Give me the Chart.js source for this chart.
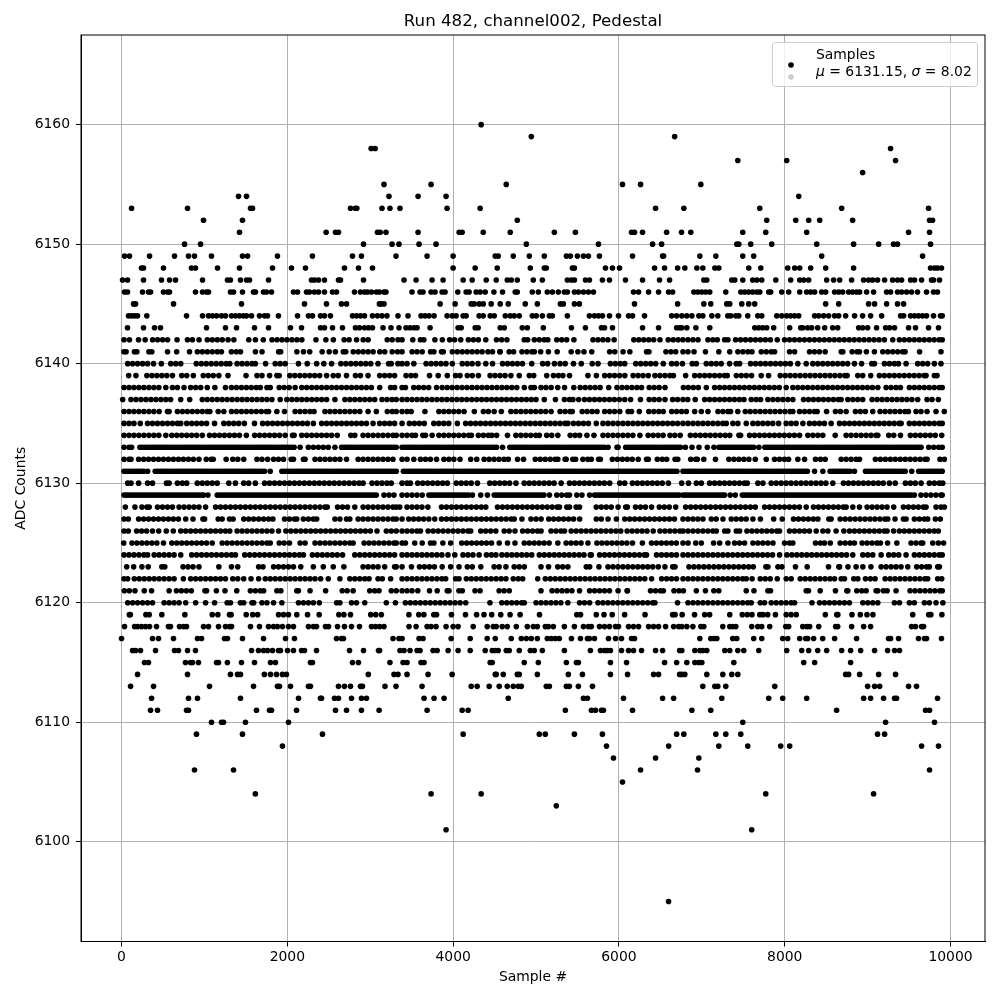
<!DOCTYPE html>
<html>
<head>
<meta charset="utf-8">
<title>Run 482, channel002, Pedestal</title>
<script src="https://cdn.jsdelivr.net/npm/chart.js@4"></script>
<style>
    html, body { margin: 0; padding: 0; background: #fff; }
    canvas { display: block; }
</style>
</head>
<body>
<canvas id="chart" width="1000" height="1000"></canvas>
<script>
// sample numbers, one list per ADC level
const xs6160 = [4338];
const xs6159 = [4943, 6672];
const xs6158 = [3011, 3059, 9277];
const xs6157 = [7434, 8024, 9337];
const xs6156 = [8940];
const xs6155 = [3166, 3734, 4641, 6043, 6261, 6988];
const xs6154 = [1411, 1508, 3226, 3577, 3915, 8169];
const xs6153 = [121, 796, 1556, 1580, 2762, 2820, 2838, 3142, 3238, 3359, 3927, 4326, 6442, 6783, 7699, 8687, 9735];
const xs6152 = [989, 1459, 4774, 7783, 8133, 8289, 8422, 8819, 9747, 9783];
const xs6151 = [1423, 2468, 2581, 2617, 3087, 3120, 3190, 3577, 4073, 4109, 4363, 4689, 5221, 5475, 6152, 6188, 6285, 6575, 6755, 6867, 7494, 7771, 8265, 9494, 9747];
const xs6150 = [760, 953, 2919, 3263, 3347, 3589, 3794, 4883, 5753, 6406, 6515, 7422, 7446, 7590, 7843, 8386, 8831, 9133, 9313, 9361, 9759];
const xs6149 = [36, 96, 338, 639, 808, 880, 1085, 1459, 1520, 1881, 2303, 2786, 2894, 3311, 3686, 4000, 4508, 4544, 4725, 4919, 5100, 5366, 5414, 5499, 5572, 5632, 5765, 6164, 6527, 6539, 6976, 7169, 7494, 7626, 8446, 9663];
const xs6148 = [241, 265, 506, 844, 892, 1158, 1423, 1821, 2050, 2219, 2689, 2858, 3027, 4000, 4266, 4532, 4931, 5100, 5124, 5439, 5463, 5838, 5922, 6007, 6430, 6551, 6708, 6795, 6940, 7012, 7157, 7205, 7566, 7711, 8036, 8120, 8181, 8313, 8494, 8831, 9759, 9807, 9843, 9891];
const xs6147 = [12, 72, 265, 482, 579, 651, 977, 1278, 1314, 1435, 1508, 1544, 1773, 2291, 2327, 2376, 2448, 2617, 2641, 2919, 3408, 3553, 3746, 3879, 4121, 4230, 4399, 4520, 4653, 4701, 4774, 4967, 5076, 5378, 5427, 5463, 5596, 5644, 5801, 5886, 6079, 6285, 6490, 6611, 7024, 7060, 7361, 7398, 7494, 7614, 7663, 7723, 7892, 8072, 8181, 8229, 8289, 8506, 8590, 8663, 8807, 8951, 9012, 9060, 9120, 9205, 9301, 9361, 9410, 9518, 9566, 9651, 9771, 9795, 9867];
const xs6146 = [36, 72, 253, 326, 350, 506, 555, 579, 892, 977, 1025, 1049, 1314, 1351, 1459, 1592, 1616, 1712, 1749, 1809, 2074, 2123, 2231, 2267, 2327, 2376, 2448, 2545, 2593, 2810, 2882, 2931, 2967, 3015, 3075, 3111, 3166, 3190, 3504, 3601, 3637, 3734, 3782, 3867, 3903, 4056, 4157, 4193, 4278, 4326, 4387, 4492, 4596, 4749, 4774, 4955, 5028, 5136, 5197, 5269, 5342, 5378, 5463, 5511, 5572, 5632, 5693, 6176, 6237, 6358, 6478, 6599, 6648, 6904, 6952, 7000, 7048, 7096, 7289, 7470, 7518, 7566, 7614, 7663, 7699, 7807, 7831, 7964, 8048, 8181, 8265, 8313, 8361, 8446, 8494, 8602, 8651, 8699, 8771, 8819, 8867, 8904, 8988, 9072, 9229, 9277, 9361, 9410, 9470, 9530, 9602, 9711, 9795, 9843];
const xs6145 = [145, 169, 627, 1447, 2207, 2472, 2653, 2714, 3111, 3130, 3166, 3843, 4024, 4218, 4254, 4314, 4363, 4459, 4568, 4665, 4870, 5016, 5294, 5330, 5463, 5523, 6188, 6708, 7024, 7108, 7301, 7337, 7482, 7566, 7638, 8494, 8651, 9012, 9084, 9229, 9361, 9434];
const xs6144 = [84, 121, 157, 193, 305, 784, 977, 1049, 1097, 1146, 1206, 1254, 1327, 1375, 1423, 1471, 1508, 1568, 1664, 1725, 1761, 1893, 2123, 2255, 2303, 2400, 2448, 2520, 2786, 2834, 2882, 2931, 3027, 3087, 3142, 3202, 3335, 3456, 3613, 3661, 3710, 3770, 3927, 3988, 4036, 4121, 4157, 4314, 4363, 4447, 4496, 4629, 4689, 4737, 4798, 4955, 5003, 5076, 5161, 5197, 5378, 5644, 5705, 5753, 5801, 5886, 5995, 6116, 6164, 6309, 6636, 6696, 6759, 6819, 6880, 6964, 7012, 7121, 7193, 7313, 7349, 7410, 7446, 7554, 7675, 7723, 7904, 7964, 8024, 8072, 8120, 8169, 8361, 8410, 8470, 8530, 8602, 8651, 8735, 8843, 8939, 9036, 9169, 9398, 9434, 9518, 9566, 9614, 9663, 9711, 9795, 9879, 9900];
const xs6143 = [72, 265, 398, 470, 1025, 1254, 1387, 1604, 1773, 2038, 2171, 2400, 2448, 2545, 2665, 2822, 2870, 2931, 2979, 3027, 3154, 3250, 3347, 3432, 3480, 3529, 3565, 3722, 4060, 4097, 4266, 4302, 4568, 4617, 4834, 4895, 5088, 5427, 5596, 5789, 5826, 5922, 6285, 6478, 6696, 6733, 6759, 6819, 6928, 7096, 7639, 7687, 7735, 7783, 7867, 8060, 8193, 8217, 8277, 8325, 8398, 8482, 8578, 8639, 8892, 8940, 9000, 9108, 9217, 9265, 9325, 9494, 9578, 9735, 9855];
const xs6142 = [30, 95, 205, 285, 375, 435, 495, 555, 670, 795, 855, 935, 1035, 1095, 1155, 1215, 1285, 1355, 1535, 1615, 1710, 1815, 1875, 1935, 1995, 2055, 2115, 2175, 2345, 2465, 2555, 2685, 2745, 2835, 2915, 2975, 3205, 3265, 3335, 3384, 3513, 3605, 3647, 3780, 3870, 3958, 4018, 4092, 4184, 4244, 4304, 4394, 4523, 4585, 4649, 4858, 4899, 4979, 5039, 5099, 5142, 5250, 5310, 5370, 5457, 5687, 5747, 5807, 5867, 5942, 6180, 6240, 6300, 6360, 6420, 6495, 6595, 6655, 6715, 6773, 6833, 6893, 6954, 7074, 7134, 7187, 7275, 7315, 7407, 7467, 7527, 7587, 7647, 7707, 7767, 7827, 7910, 7998, 8058, 8118, 8178, 8238, 8298, 8358, 8418, 8478, 8538, 8598, 8658, 8718, 8778, 8838, 8898, 8958, 9018, 9078, 9138, 9203, 9303, 9383, 9443, 9503, 9563, 9623, 9683, 9743, 9803, 9863, 9900];
const xs6141 = [30, 55, 155, 185, 330, 365, 555, 665, 820, 915, 975, 1035, 1095, 1155, 1205, 1325, 1385, 1435, 1615, 1695, 1895, 1920, 2115, 2195, 2270, 2420, 2505, 2580, 2675, 2705, 2795, 2855, 2915, 2975, 3035, 3115, 3175, 3265, 3330, 3384, 3505, 3565, 3627, 3727, 3768, 3860, 3881, 3990, 4050, 4110, 4170, 4230, 4290, 4350, 4420, 4475, 4563, 4568, 4676, 4730, 4830, 4890, 4950, 4980, 5056, 5149, 5255, 5424, 5505, 5578, 5672, 5888, 5950, 6050, 6132, 6333, 6362, 6567, 6627, 6685, 6773, 6833, 6906, 7044, 7205, 7337, 7435, 7495, 7555, 7605, 7717, 7777, 7837, 7878, 8058, 8119, 8299, 8359, 8419, 8488, 8681, 8701, 8813, 8873, 8902, 8985, 9082, 9183, 9243, 9303, 9363, 9423, 9452, 9627, 9885];
const xs6140 = [74, 134, 194, 254, 314, 386, 480, 594, 654, 714, 902, 962, 1022, 1082, 1142, 1202, 1262, 1306, 1394, 1454, 1514, 1574, 1614, 1738, 1854, 1914, 1974, 2134, 2240, 2354, 2440, 2534, 2646, 2706, 2766, 2826, 2886, 2946, 3006, 3094, 3222, 3254, 3334, 3384, 3444, 3526, 3674, 3734, 3794, 3854, 3914, 3990, 4110, 4170, 4230, 4300, 4394, 4475, 4596, 4656, 4716, 4776, 4836, 4948, 5080, 5140, 5222, 5290, 5352, 5452, 5546, 5678, 5748, 5897, 5957, 6017, 6070, 6203, 6263, 6323, 6383, 6443, 6535, 6636, 6696, 6766, 6885, 6934, 7054, 7114, 7174, 7234, 7335, 7415, 7456, 7588, 7648, 7708, 7768, 7828, 7888, 7948, 8008, 8068, 8158, 8259, 8339, 8399, 8459, 8519, 8579, 8639, 8699, 8759, 8841, 8927, 9050, 9082, 9203, 9263, 9323, 9372, 9464, 9604, 9664, 9724, 9805, 9885];
const xs6139 = [86, 174, 306, 366, 426, 486, 546, 614, 726, 786, 866, 986, 1046, 1106, 1174, 1284, 1502, 1634, 1694, 1786, 1874, 1902, 2030, 2090, 2150, 2210, 2270, 2330, 2390, 2474, 2554, 2614, 2714, 2822, 2882, 2974, 3114, 3174, 3234, 3294, 3432, 3492, 3546, 3715, 3820, 3930, 4030, 4083, 4171, 4231, 4305, 4446, 4506, 4566, 4626, 4697, 4798, 4919, 4972, 5129, 5210, 5270, 5324, 5404, 5626, 5728, 5828, 5888, 5948, 6008, 6071, 6171, 6231, 6291, 6354, 6434, 6494, 6554, 6614, 6657, 6805, 6914, 6974, 7034, 7094, 7154, 7214, 7274, 7307, 7416, 7476, 7536, 7600, 7717, 7805, 7946, 8006, 8066, 8126, 8186, 8246, 8306, 8366, 8426, 8486, 8546, 8606, 8666, 8726, 8753, 8881, 8941, 9038, 9142, 9202, 9262, 9322, 9382, 9442, 9502, 9562, 9622, 9682, 9705, 9805, 9837];
const xs6138 = [30, 90, 150, 210, 270, 330, 390, 450, 534, 614, 674, 754, 834, 894, 954, 1034, 1126, 1254, 1326, 1386, 1446, 1506, 1566, 1626, 1674, 1754, 1794, 1902, 1962, 2022, 2094, 2174, 2234, 2294, 2354, 2414, 2474, 2534, 2594, 2654, 2714, 2774, 2834, 2894, 2954, 3014, 3114, 3246, 3294, 3384, 3425, 3525, 3585, 3645, 3705, 3800, 3868, 3928, 3988, 4048, 4108, 4168, 4228, 4288, 4348, 4408, 4468, 4528, 4588, 4648, 4708, 4768, 4859, 4939, 4980, 5060, 5120, 5182, 5262, 5344, 5456, 5533, 5593, 5653, 5713, 5773, 5877, 5977, 6037, 6097, 6157, 6217, 6273, 6365, 6425, 6485, 6556, 6778, 6838, 6898, 6958, 7054, 7154, 7214, 7274, 7334, 7394, 7454, 7514, 7574, 7634, 7694, 7754, 7814, 7874, 7934, 8018, 8098, 8158, 8218, 8278, 8338, 8398, 8458, 8518, 8578, 8638, 8698, 8758, 8818, 8878, 8938, 8998, 9058, 9123, 9223, 9283, 9343, 9396, 9504, 9564, 9624, 9684, 9744, 9804, 9864, 9900];
const xs6137 = [14, 114, 174, 234, 294, 354, 414, 474, 534, 592, 714, 822, 974, 1034, 1094, 1154, 1214, 1274, 1334, 1394, 1454, 1514, 1574, 1634, 1694, 1754, 1814, 1914, 1994, 2054, 2114, 2174, 2234, 2294, 2354, 2414, 2474, 2574, 2694, 2754, 2814, 2874, 2934, 2994, 3054, 3142, 3202, 3262, 3314, 3384, 3444, 3504, 3564, 3624, 3684, 3744, 3804, 3864, 3924, 3984, 4044, 4104, 4164, 4224, 4284, 4344, 4404, 4464, 4524, 4584, 4644, 4704, 4764, 4824, 4884, 4944, 5000, 5100, 5234, 5343, 5403, 5445, 5515, 5585, 5645, 5705, 5765, 5825, 5885, 5945, 6005, 6070, 6141, 6260, 6365, 6425, 6485, 6556, 6648, 6708, 6773, 6830, 6920, 7034, 7094, 7154, 7214, 7274, 7334, 7394, 7454, 7508, 7596, 7656, 7709, 7797, 7857, 7917, 7977, 8037, 8098, 8227, 8287, 8347, 8407, 8467, 8527, 8587, 8647, 8681, 8761, 8821, 8881, 8941, 9054, 9114, 9174, 9234, 9294, 9354, 9414, 9474, 9534, 9604, 9717, 9777, 9853];
const xs6136 = [30, 90, 150, 210, 270, 330, 390, 454, 554, 574, 674, 734, 794, 854, 914, 974, 1034, 1066, 1166, 1234, 1326, 1386, 1446, 1506, 1566, 1626, 1686, 1746, 1774, 1874, 1966, 2094, 2154, 2214, 2274, 2322, 2454, 2514, 2574, 2634, 2694, 2754, 2814, 2874, 2974, 3074, 3206, 3266, 3314, 3384, 3444, 3494, 3660, 3828, 3888, 3948, 4008, 4068, 4132, 4256, 4365, 4425, 4495, 4581, 4697, 4757, 4817, 4877, 4937, 4997, 5057, 5117, 5182, 5290, 5350, 5410, 5437, 5557, 5617, 5677, 5736, 5828, 5888, 5948, 6010, 6111, 6152, 6246, 6361, 6421, 6481, 6535, 6636, 6696, 6756, 6814, 6914, 6994, 7074, 7195, 7255, 7315, 7347, 7434, 7524, 7584, 7644, 7704, 7764, 7824, 7884, 7944, 8004, 8064, 8098, 8179, 8239, 8299, 8359, 8392, 8505, 8612, 8672, 8741, 8853, 8913, 8973, 9062, 9150, 9210, 9270, 9330, 9390, 9450, 9492, 9584, 9644, 9717, 9825, 9925];
const xs6135 = [30, 90, 150, 226, 314, 374, 434, 494, 554, 614, 674, 714, 786, 846, 906, 966, 1026, 1122, 1234, 1294, 1354, 1414, 1482, 1604, 1702, 1762, 1822, 1882, 1942, 2002, 2062, 2122, 2182, 2242, 2314, 2414, 2474, 2534, 2594, 2654, 2714, 2774, 2834, 2894, 2954, 3034, 3114, 3174, 3234, 3294, 3384, 3472, 3532, 3592, 3652, 3767, 3827, 3887, 3947, 4051, 4151, 4211, 4271, 4331, 4391, 4451, 4511, 4571, 4631, 4691, 4751, 4811, 4871, 4931, 4991, 5051, 5111, 5171, 5231, 5291, 5351, 5384, 5452, 5512, 5572, 5632, 5727, 5808, 5868, 5928, 5988, 6048, 6108, 6168, 6228, 6288, 6348, 6408, 6468, 6528, 6588, 6648, 6708, 6773, 6833, 6893, 6953, 7013, 7073, 7133, 7193, 7253, 7295, 7375, 7435, 7536, 7616, 7676, 7736, 7796, 7856, 7926, 8018, 8078, 8138, 8219, 8299, 8359, 8419, 8479, 8560, 8661, 8721, 8781, 8841, 8901, 8961, 9021, 9081, 9141, 9201, 9261, 9321, 9381, 9404, 9504, 9564, 9624, 9684, 9744, 9804, 9864, 9900];
const xs6134 = [30, 90, 150, 210, 270, 330, 390, 450, 534, 606, 666, 726, 786, 846, 906, 974, 1062, 1122, 1182, 1242, 1302, 1362, 1422, 1506, 1606, 1666, 1726, 1786, 1846, 1906, 1974, 2062, 2082, 2174, 2234, 2294, 2354, 2414, 2474, 2534, 2602, 2766, 2814, 2914, 2974, 3034, 3094, 3154, 3214, 3274, 3314, 3384, 3444, 3504, 3546, 3634, 3667, 3747, 3828, 3888, 3948, 4008, 4068, 4128, 4188, 4220, 4305, 4365, 4425, 4467, 4525, 4656, 4757, 4817, 4877, 4937, 4997, 5040, 5129, 5189, 5263, 5412, 5472, 5526, 5614, 5699, 5808, 5868, 5928, 5988, 6048, 6108, 6168, 6253, 6353, 6413, 6473, 6533, 6616, 6674, 6739, 6862, 6922, 6982, 7042, 7102, 7162, 7222, 7283, 7337, 7448, 7468, 7576, 7636, 7696, 7756, 7816, 7876, 7936, 7996, 8056, 8116, 8179, 8279, 8339, 8399, 8459, 8609, 8741, 8801, 8861, 8921, 8981, 9041, 9101, 9123, 9255, 9315, 9396, 9516, 9576, 9636, 9696, 9756, 9816, 9894];
const xs6133 = [30, 90, 122, 222, 282, 342, 402, 462, 522, 582, 642, 702, 762, 822, 882, 942, 1002, 1062, 1122, 1182, 1242, 1302, 1362, 1422, 1482, 1542, 1602, 1662, 1722, 1782, 1842, 1902, 1962, 2022, 2082, 2154, 2254, 2314, 2374, 2434, 2494, 2574, 2654, 2714, 2774, 2834, 2894, 2954, 3014, 3074, 3134, 3194, 3254, 3314, 3384, 3444, 3504, 3564, 3624, 3684, 3744, 3804, 3864, 3924, 3984, 4044, 4104, 4164, 4224, 4284, 4344, 4404, 4464, 4524, 4596, 4684, 4744, 4804, 4864, 4924, 4984, 5044, 5104, 5164, 5224, 5284, 5344, 5404, 5464, 5524, 5584, 5644, 5704, 5764, 5824, 5869, 5977, 5990, 6082, 6142, 6202, 6262, 6322, 6382, 6442, 6502, 6562, 6622, 6682, 6742, 6802, 6882, 6966, 7066, 7146, 7206, 7266, 7326, 7386, 7446, 7506, 7566, 7626, 7688, 7760, 7820, 7880, 7940, 8000, 8060, 8120, 8180, 8240, 8300, 8360, 8420, 8480, 8540, 8600, 8660, 8720, 8780, 8840, 8900, 8960, 9020, 9080, 9140, 9200, 9260, 9320, 9380, 9440, 9500, 9560, 9620, 9645, 9737, 9797, 9857, 9900, 252, 312, 372, 432, 492, 552, 612, 672, 732, 792, 852, 912, 972, 1032, 1092, 1152, 1212, 1272, 1332, 1392, 1452, 1512, 1572, 1632, 1692, 1752, 1812, 1872, 1932, 1992, 2052, 2684, 2744, 2804, 2864, 2924, 2984, 3044, 3104, 3164, 3224, 3284, 3414, 3474, 3534, 3594, 3654, 3714, 3774, 3834, 3894, 3954, 4014, 4074, 4134, 4194, 4254, 4314, 4374, 4434, 4494, 4714, 4774, 4834, 4894, 4954, 5014, 5074, 5134, 5194, 5254, 5314, 5374, 5434, 5494, 5554, 5614, 5674, 5734, 5794, 6112, 6172, 6232, 6292, 6352, 6412, 6472, 6532, 6592, 6652, 6712, 7236, 7296, 7356, 7416, 7476, 7536, 7596, 7790, 7850, 7910, 7970, 8030, 8090, 8150, 8210, 8270, 8330, 8390, 8450, 8510, 8570, 8630, 8690, 8750, 8810, 8870, 8930, 8990, 9050, 9110, 9170, 9230, 9290, 9350, 9410, 9470, 9530, 9590];
const xs6132 = [30, 90, 114, 206, 266, 326, 386, 446, 506, 566, 626, 686, 746, 806, 866, 934, 1022, 1082, 1106, 1262, 1342, 1402, 1474, 1634, 1694, 1762, 1834, 1894, 1954, 2046, 2074, 2194, 2214, 2334, 2394, 2454, 2514, 2574, 2634, 2714, 2854, 2914, 2974, 3034, 3094, 3154, 3214, 3274, 3384, 3444, 3526, 3606, 3666, 3726, 3800, 3889, 3949, 4009, 4083, 4212, 4285, 4374, 4434, 4494, 4554, 4614, 4665, 4777, 4850, 4991, 5051, 5111, 5171, 5231, 5263, 5351, 5364, 5444, 5477, 5565, 5625, 5667, 5755, 5776, 5921, 5981, 6041, 6101, 6161, 6233, 6333, 6354, 6463, 6523, 6576, 6677, 6710, 6866, 6926, 6946, 7024, 7165, 7327, 7387, 7447, 7507, 7567, 7645, 7777, 7877, 7937, 7997, 8046, 8158, 8239, 8371, 8431, 8488, 8681, 8741, 8801, 8861, 8902, 9094, 9154, 9214, 9274, 9334, 9394, 9454, 9514, 9574, 9634, 9694, 9717, 9873, 9926];
const xs6131 = [30, 90, 150, 210, 270, 314, 406, 466, 526, 586, 646, 706, 766, 826, 886, 946, 1006, 1066, 1126, 1186, 1246, 1306, 1366, 1426, 1486, 1546, 1606, 1666, 1726, 1794, 1934, 1994, 2054, 2114, 2174, 2234, 2294, 2354, 2414, 2474, 2534, 2594, 2654, 2714, 2774, 2834, 2894, 2954, 3014, 3074, 3134, 3194, 3254, 3314, 3400, 3460, 3520, 3580, 3640, 3700, 3760, 3820, 3880, 3940, 4000, 4060, 4120, 4180, 4240, 4300, 4360, 4420, 4480, 4540, 4600, 4660, 4720, 4780, 4840, 4900, 4960, 5020, 5080, 5140, 5200, 5260, 5320, 5380, 5440, 5500, 5560, 5620, 5680, 5740, 5800, 5860, 5920, 5980, 6040, 6100, 6160, 6220, 6280, 6340, 6400, 6460, 6520, 6580, 6640, 6700, 6773, 6833, 6893, 6953, 7013, 7073, 7133, 7193, 7253, 7313, 7373, 7433, 7493, 7553, 7613, 7673, 7733, 7793, 7853, 7913, 7973, 8033, 8093, 8153, 8213, 8273, 8360, 8460, 8548, 8608, 8668, 8728, 8788, 8841, 8974, 9034, 9094, 9154, 9214, 9274, 9334, 9394, 9454, 9532, 9616, 9676, 9736, 9796, 9856, 9900, 60, 120, 180, 240, 436, 496, 556, 616, 676, 736, 796, 856, 916, 976, 1036, 1096, 1156, 1216, 1276, 1336, 1396, 1456, 1516, 1576, 1636, 1696, 1964, 2024, 2084, 2144, 2204, 2264, 2324, 2384, 2444, 2504, 2564, 2624, 2684, 2744, 2804, 2864, 2924, 2984, 3044, 3104, 3164, 3224, 3284, 3430, 3490, 3550, 3610, 3670, 3730, 3790, 3850, 3910, 3970, 4030, 4090, 4150, 4210, 4270, 4330, 4390, 4450, 4510, 4570, 4630, 4690, 4750, 4810, 4870, 4930, 4990, 5050, 5110, 5170, 5230, 5290, 5350, 5410, 5470, 5530, 5590, 5650, 5710, 5770, 5830, 5890, 5950, 6010, 6070, 6130, 6190, 6250, 6310, 6370, 6430, 6490, 6550, 6610, 6670, 6803, 6863, 6923, 6983, 7043, 7103, 7163, 7223, 7283, 7343, 7403, 7463, 7523, 7583, 7643, 7703, 7763, 7823, 7883, 7943, 8003, 8063, 8123, 8183, 8243, 8578, 8638, 8698, 8758, 9004, 9064, 9124, 9184, 9244, 9304, 9364, 9424, 9646, 9706, 9766, 9826, 9886];
const xs6130 = [74, 114, 206, 314, 374, 542, 574, 674, 734, 786, 914, 974, 1034, 1094, 1154, 1294, 1374, 1474, 1534, 1614, 1726, 1786, 1846, 1906, 1966, 2026, 2086, 2146, 2206, 2266, 2326, 2386, 2446, 2506, 2566, 2626, 2686, 2746, 2806, 2866, 2914, 3022, 3082, 3142, 3202, 3254, 3384, 3444, 3485, 3573, 3633, 3693, 3753, 3813, 3873, 3930, 4038, 4098, 4158, 4218, 4293, 4442, 4502, 4562, 4622, 4682, 4758, 4858, 4918, 4978, 5038, 5098, 5158, 5218, 5303, 5404, 5464, 5524, 5584, 5644, 5704, 5764, 5824, 5889, 6010, 6070, 6163, 6223, 6283, 6343, 6403, 6463, 6523, 6596, 6757, 6839, 6934, 6994, 7094, 7154, 7214, 7274, 7334, 7394, 7454, 7514, 7548, 7676, 7737, 7837, 7897, 7957, 8017, 8077, 8137, 8197, 8257, 8317, 8377, 8437, 8497, 8580, 8709, 8769, 8829, 8889, 8949, 9009, 9069, 9129, 9189, 9263, 9333, 9456, 9516, 9576, 9645, 9745, 9805, 9865, 9906];
const xs6129 = [30, 90, 150, 210, 270, 330, 390, 450, 510, 570, 630, 690, 750, 810, 870, 930, 990, 1042, 1154, 1214, 1274, 1334, 1394, 1454, 1514, 1574, 1634, 1694, 1754, 1814, 1874, 1934, 1994, 2054, 2114, 2174, 2234, 2294, 2354, 2414, 2474, 2534, 2594, 2654, 2714, 2774, 2834, 2894, 2954, 3014, 3074, 3166, 3226, 3286, 3384, 3444, 3504, 3564, 3627, 3707, 3767, 3827, 3887, 3947, 4007, 4067, 4127, 4187, 4233, 4333, 4414, 4495, 4555, 4615, 4675, 4735, 4795, 4855, 4915, 4975, 5035, 5095, 5162, 5250, 5310, 5370, 5404, 5492, 5554, 5646, 5706, 5766, 5826, 5886, 5946, 6006, 6066, 6126, 6186, 6246, 6306, 6366, 6426, 6486, 6546, 6606, 6666, 6726, 6773, 6833, 6893, 6953, 7013, 7073, 7133, 7193, 7253, 7275, 7343, 7404, 7488, 7548, 7608, 7668, 7728, 7788, 7848, 7908, 7968, 8028, 8088, 8148, 8208, 8268, 8328, 8388, 8448, 8508, 8568, 8628, 8688, 8748, 8808, 8868, 8928, 8988, 9048, 9108, 9168, 9228, 9288, 9348, 9408, 9468, 9528, 9564, 9644, 9704, 9764, 9824, 9884, 9900, 60, 120, 180, 240, 300, 360, 420, 480, 540, 600, 660, 720, 780, 840, 900, 960, 1184, 1244, 1304, 1364, 1424, 1484, 1544, 1604, 1664, 1724, 1784, 1844, 1904, 1964, 2024, 2084, 2144, 2204, 2264, 2324, 2384, 2444, 2504, 2564, 2624, 2684, 2744, 2804, 2864, 2924, 2984, 3044, 3736, 3796, 3856, 3916, 3976, 4036, 4096, 4156, 4525, 4585, 4645, 4705, 4765, 4825, 4885, 4945, 5005, 5065, 5736, 5796, 5856, 5916, 5976, 6036, 6096, 6156, 6216, 6276, 6336, 6396, 6456, 6516, 6576, 6636, 6696, 6803, 6863, 6923, 6983, 7043, 7103, 7163, 7223, 7518, 7578, 7638, 7698, 7758, 7818, 7878, 7938, 7998, 8058, 8118, 8178, 8238, 8298, 8358, 8418, 8478, 8538, 8598, 8658, 8718, 8778, 8838, 8898, 8958, 9018, 9078, 9138, 9198, 9258, 9318, 9378, 9438, 9498];
const xs6128 = [46, 162, 246, 306, 334, 434, 494, 554, 614, 694, 754, 814, 874, 934, 1014, 1134, 1194, 1254, 1314, 1374, 1434, 1494, 1554, 1614, 1674, 1734, 1794, 1854, 1914, 1974, 2034, 2094, 2154, 2214, 2274, 2334, 2394, 2454, 2482, 2606, 2666, 2726, 2814, 2914, 2974, 3034, 3094, 3154, 3214, 3274, 3314, 3356, 3444, 3504, 3564, 3624, 3695, 3860, 3920, 3980, 4040, 4100, 4160, 4220, 4280, 4340, 4394, 4535, 4595, 4655, 4715, 4775, 4835, 4895, 4955, 5015, 5075, 5135, 5195, 5255, 5283, 5371, 5404, 5484, 5525, 5727, 5787, 5847, 5907, 5990, 6082, 6103, 6200, 6260, 6320, 6394, 6487, 6547, 6607, 6685, 6805, 6866, 6926, 6986, 7046, 7106, 7166, 7226, 7286, 7346, 7406, 7466, 7526, 7586, 7645, 7757, 7817, 7877, 7937, 7997, 8057, 8117, 8177, 8259, 8347, 8407, 8467, 8527, 8587, 8647, 8707, 8741, 8821, 8902, 8994, 9054, 9114, 9174, 9234, 9315, 9432, 9492, 9552, 9612, 9672, 9705, 9825, 9885, 9926];
const xs6127 = [30, 82, 206, 266, 326, 386, 446, 506, 566, 626, 686, 774, 862, 982, 1002, 1166, 1214, 1302, 1346, 1474, 1534, 1594, 1654, 1714, 1774, 1826, 1966, 2026, 2086, 2114, 2194, 2254, 2314, 2354, 2574, 2634, 2714, 2754, 2854, 2914, 2974, 3034, 3094, 3154, 3214, 3274, 3314, 3384, 3464, 3524, 3584, 3644, 3707, 3778, 3860, 3920, 3980, 4040, 4100, 4160, 4220, 4280, 4340, 4400, 4460, 4520, 4580, 4640, 4700, 4737, 4830, 4939, 5000, 5061, 5153, 5213, 5273, 5333, 5393, 5453, 5526, 5727, 5787, 5869, 5970, 6070, 6130, 6190, 6250, 6310, 6370, 6430, 6490, 6550, 6610, 6670, 6773, 6833, 6893, 6953, 7014, 7114, 7174, 7255, 7355, 7415, 7475, 7535, 7616, 7707, 7867, 7970, 8106, 8166, 8226, 8286, 8346, 8400, 8532, 8560, 8669, 8729, 8789, 8849, 8909, 8969, 9029, 9089, 9149, 9209, 9243, 9331, 9432, 9464, 9564, 9624, 9684, 9725, 9817, 9877];
const xs6126 = [30, 82, 182, 242, 302, 374, 448, 540, 624, 714, 774, 834, 894, 954, 1014, 1074, 1134, 1194, 1254, 1306, 1394, 1454, 1514, 1574, 1634, 1694, 1754, 1814, 1894, 1982, 2042, 2102, 2162, 2222, 2282, 2342, 2402, 2462, 2522, 2582, 2642, 2702, 2762, 2822, 2882, 2942, 3002, 3082, 3194, 3254, 3314, 3384, 3444, 3504, 3564, 3606, 3699, 3759, 3819, 3879, 3939, 3999, 4059, 4119, 4179, 4212, 4333, 4393, 4453, 4515, 4616, 4676, 4746, 4838, 4898, 4958, 5018, 5061, 5181, 5241, 5301, 5344, 5424, 5484, 5544, 5604, 5664, 5724, 5784, 5844, 5904, 5964, 6022, 6099, 6159, 6219, 6279, 6339, 6414, 6495, 6555, 6615, 6675, 6735, 6773, 6833, 6893, 6953, 7013, 7073, 7133, 7175, 7275, 7315, 7416, 7456, 7544, 7604, 7664, 7724, 7784, 7844, 7904, 7938, 8058, 8118, 8178, 8238, 8298, 8380, 8460, 8520, 8620, 8713, 8781, 8841, 8901, 8961, 9021, 9081, 9141, 9201, 9235, 9313, 9383, 9443, 9503, 9563, 9623, 9683, 9743, 9803, 9853];
const xs6125 = [26, 126, 186, 246, 306, 366, 426, 506, 606, 666, 726, 786, 846, 906, 966, 1026, 1094, 1214, 1274, 1334, 1394, 1454, 1514, 1574, 1634, 1694, 1754, 1794, 1902, 1962, 2026, 2154, 2214, 2334, 2394, 2454, 2514, 2574, 2634, 2694, 2754, 2794, 2926, 2986, 3046, 3106, 3166, 3226, 3286, 3314, 3384, 3425, 3537, 3627, 3727, 3768, 3876, 3970, 4103, 4163, 4223, 4283, 4343, 4403, 4463, 4556, 4656, 4746, 4858, 4918, 4978, 5038, 5098, 5158, 5263, 5363, 5423, 5483, 5543, 5626, 5735, 5795, 5855, 5915, 5975, 6035, 6095, 6164, 6283, 6393, 6453, 6513, 6573, 6633, 6693, 6773, 6834, 6926, 6994, 7142, 7215, 7315, 7395, 7455, 7516, 7616, 7676, 7736, 7796, 7858, 7998, 8058, 8098, 8371, 8431, 8480, 8550, 8669, 8729, 8789, 8841, 8934, 8994, 9054, 9114, 9155, 9241, 9353, 9524, 9584, 9644, 9665, 9785, 9853, 9916];
const xs6124 = [30, 90, 150, 210, 270, 314, 394, 454, 514, 574, 634, 714, 846, 906, 966, 1026, 1086, 1146, 1206, 1266, 1326, 1374, 1486, 1546, 1606, 1666, 1726, 1786, 1846, 1906, 1966, 2026, 2086, 2146, 2194, 2302, 2362, 2422, 2482, 2542, 2602, 2666, 2814, 2874, 2934, 2994, 3054, 3114, 3174, 3234, 3294, 3384, 3444, 3504, 3564, 3624, 3684, 3744, 3804, 3864, 3938, 4020, 4119, 4179, 4239, 4313, 4402, 4462, 4516, 4588, 4648, 4708, 4768, 4828, 4888, 4948, 5040, 5100, 5160, 5220, 5280, 5340, 5400, 5460, 5520, 5578, 5654, 5667, 5767, 5827, 5887, 5947, 6007, 6067, 6127, 6187, 6247, 6307, 6333, 6454, 6514, 6574, 6634, 6694, 6773, 6833, 6893, 6953, 7013, 7073, 7133, 7193, 7253, 7313, 7373, 7433, 7493, 7553, 7613, 7673, 7733, 7793, 7853, 7938, 8026, 8086, 8146, 8206, 8266, 8326, 8386, 8446, 8506, 8566, 8626, 8686, 8746, 8821, 8942, 9002, 9062, 9163, 9255, 9315, 9375, 9464, 9564, 9624, 9684, 9744, 9804, 9864, 9900];
const xs6123 = [62, 146, 246, 322, 486, 522, 742, 802, 862, 934, 1174, 1326, 1402, 1654, 1706, 1834, 1894, 1954, 2014, 2074, 2162, 2314, 2434, 2554, 2682, 2914, 2974, 3034, 3094, 3174, 3294, 3314, 3384, 3497, 3594, 3654, 3714, 3774, 3868, 3970, 4071, 4171, 4231, 4334, 4495, 4555, 4637, 4737, 4797, 4859, 5060, 5151, 5262, 5322, 5384, 5606, 5647, 5759, 5868, 5928, 5988, 6048, 6108, 6168, 6228, 6288, 6348, 6408, 6475, 6555, 6648, 6677, 6845, 6905, 6965, 7025, 7085, 7145, 7205, 7265, 7325, 7385, 7445, 7505, 7565, 7621, 7773, 7797, 7918, 7966, 8130, 8271, 8528, 8653, 8661, 8763, 8861, 8942, 9040, 9163, 9223, 9283, 9343, 9403, 9484, 9592, 9652, 9712, 9745, 9845, 9866];
const xs6122 = [30, 74, 154, 214, 274, 334, 394, 454, 514, 574, 634, 746, 834, 894, 954, 1014, 1074, 1134, 1194, 1254, 1342, 1402, 1474, 1562, 1654, 1734, 1794, 1854, 1914, 1974, 2034, 2094, 2154, 2214, 2274, 2334, 2402, 2494, 2634, 2754, 2814, 2874, 2934, 2986, 3094, 3146, 3246, 3384, 3444, 3504, 3564, 3624, 3684, 3744, 3804, 3864, 3910, 4030, 4071, 4159, 4219, 4279, 4339, 4399, 4459, 4519, 4579, 4637, 4725, 4785, 4839, 5020, 5112, 5172, 5232, 5292, 5352, 5412, 5472, 5532, 5592, 5652, 5712, 5772, 5832, 5892, 5952, 6012, 6072, 6132, 6192, 6252, 6312, 6394, 6515, 6575, 6635, 6695, 6773, 6833, 6893, 6953, 7013, 7073, 7133, 7193, 7253, 7313, 7373, 7433, 7493, 7536, 7606, 7705, 7765, 7825, 7910, 8018, 8078, 8187, 8247, 8307, 8367, 8427, 8487, 8547, 8601, 8681, 8721, 8833, 8882, 8974, 9034, 9090, 9211, 9271, 9331, 9391, 9451, 9511, 9571, 9631, 9691, 9725, 9845, 9894];
const xs6121 = [34, 94, 162, 274, 362, 574, 662, 722, 782, 842, 1006, 1026, 1144, 1248, 1390, 1554, 1614, 1674, 1714, 1874, 1922, 2114, 2134, 2274, 2462, 2662, 2722, 2794, 2994, 3054, 3106, 3254, 3314, 3384, 3444, 3504, 3574, 3715, 3808, 3929, 3950, 4070, 4111, 4264, 4325, 4555, 4615, 4677, 5060, 5193, 5253, 5313, 5373, 5433, 5525, 5646, 5706, 5766, 5826, 5886, 5990, 6099, 6103, 6381, 6441, 6501, 6536, 6664, 6724, 6778, 6934, 7044, 7145, 7205, 7536, 7629, 7797, 7829, 8259, 8287, 8428, 8612, 8749, 8761, 8869, 8929, 8982, 9102, 9123, 9191, 9235, 9343, 9512, 9572, 9632, 9692, 9752, 9812, 9872, 9900];
const xs6120 = [74, 134, 194, 254, 314, 374, 514, 574, 634, 694, 774, 894, 1014, 1122, 1274, 1314, 1434, 1474, 1574, 1594, 1694, 1754, 1834, 1934, 2134, 2194, 2254, 2314, 2386, 2594, 2634, 2774, 2834, 2934, 3194, 3304, 3424, 3484, 3544, 3604, 3664, 3724, 3784, 3844, 3904, 3964, 4024, 4084, 4152, 4444, 4587, 4647, 4707, 4767, 4827, 4859, 5000, 5060, 5120, 5180, 5240, 5300, 5384, 5525, 5585, 5647, 5747, 5807, 5867, 5927, 5987, 6047, 6107, 6167, 6227, 6287, 6347, 6407, 6434, 6707, 6833, 6893, 6953, 7013, 7073, 7133, 7193, 7253, 7313, 7373, 7433, 7493, 7553, 7596, 7705, 7757, 7837, 7897, 7957, 8017, 8077, 8119, 8329, 8420, 8480, 8540, 8600, 8660, 8720, 8781, 8942, 9002, 9062, 9123, 9323, 9384, 9504, 9564, 9685, 9745, 9825, 9908];
const xs6119 = [94, 106, 294, 334, 486, 764, 1094, 1162, 1302, 1322, 1504, 1582, 1642, 1894, 1954, 2014, 2114, 2244, 2384, 2622, 2682, 2762, 3006, 3066, 3134, 3467, 3586, 3647, 3767, 3800, 3980, 4149, 4283, 4372, 4465, 4574, 4687, 4808, 5042, 5492, 5537, 5727, 5820, 5919, 6069, 6315, 6648, 6677, 6763, 6912, 7034, 7094, 7337, 7488, 7548, 7605, 7699, 7739, 7795, 7888, 8018, 8078, 8139, 8490, 8628, 8641, 8811, 8912, 8992, 9064, 9544, 9737, 9763, 9896];
const xs6118 = [36, 157, 193, 241, 289, 338, 422, 566, 591, 699, 748, 784, 989, 1049, 1170, 1254, 1302, 1327, 1556, 1664, 1773, 1833, 1881, 1941, 2014, 2074, 2255, 2315, 2352, 2460, 2497, 2605, 2689, 2774, 2870, 3015, 3063, 3113, 3166, 3468, 3553, 3686, 3734, 3794, 3915, 4000, 4060, 4242, 4411, 4484, 4520, 4592, 4653, 4762, 4895, 4967, 5016, 5112, 5149, 5209, 5342, 5463, 5572, 5632, 5668, 5765, 5826, 5886, 5959, 5995, 6116, 6176, 6237, 6358, 6418, 6478, 6563, 6660, 6720, 6759, 6819, 6892, 6988, 7024, 7253, 7337, 7373, 7410, 7602, 7675, 7723, 7819, 8012, 8048, 8217, 8265, 8301, 8410, 8614, 8639, 8807, 8952, 9036, 9530, 9578, 9651, 9675];
const xs6117 = [0, 374, 446, 627, 916, 965, 1242, 1278, 1459, 1713, 1978, 2086, 2593, 2653, 2677, 3275, 3347, 3384, 3589, 3637, 3976, 4206, 4411, 4508, 4701, 4822, 4883, 4943, 5016, 5136, 5185, 5233, 5281, 5427, 5536, 5620, 5644, 5705, 5874, 5959, 6031, 6152, 6188, 6976, 7108, 7145, 7181, 7373, 7422, 7626, 7723, 7976, 8036, 8181, 8253, 8277, 8349, 8458, 8602, 8867, 9253, 9277, 9373, 9614, 9687, 9711, 9891];
const xs6116 = [133, 169, 229, 410, 639, 687, 796, 892, 1568, 1652, 1713, 1761, 1821, 1893, 1917, 2002, 2074, 2171, 2207, 2352, 2750, 2919, 3100, 3113, 3359, 3408, 3480, 3565, 3601, 3758, 3807, 3940, 4060, 4206, 4387, 4472, 4508, 4544, 4641, 4677, 4798, 4931, 4979, 5076, 5342, 5656, 5777, 5826, 5862, 5898, 6031, 6116, 6176, 6273, 6442, 6527, 6732, 6759, 6916, 6976, 7012, 7060, 7277, 7337, 7434, 7506, 7687, 8024, 8205, 8289, 8398, 8506, 8687, 8795, 8916, 9084, 9241, 9325, 9385];
const xs6115 = [277, 325, 771, 832, 856, 928, 1146, 1170, 1277, 1447, 1604, 1797, 1857, 2279, 2303, 2786, 2858, 3238, 3396, 3444, 3613, 3649, 4447, 4472, 4858, 5028, 5366, 5487, 5511, 5898, 6092, 6551, 6696, 6819, 6916, 6964, 7000, 7386, 8229, 8361, 8795];
const xs6114 = [193, 796, 1314, 1399, 1435, 1723, 1797, 1869, 1941, 1989, 2977, 3287, 3335, 3444, 3698, 3988, 4508, 4520, 4605, 4774, 4798, 5016, 5390, 5560, 5898, 6104, 6418, 6478, 6732, 6759, 6795, 7060, 7253, 7361, 7434, 8735, 8771, 8904, 9133, 9337];
const xs6113 = [109, 386, 1061, 1592, 1881, 1905, 2038, 2255, 2279, 2617, 2689, 2762, 2882, 2906, 3178, 3311, 3625, 4218, 4290, 4435, 4556, 4653, 4725, 4786, 4822, 5124, 5161, 5366, 5402, 5511, 5681, 7012, 7157, 7193, 7289, 7880, 9000, 9084, 9145, 9494, 9590];
const xs6112 = [362, 808, 916, 1435, 2135, 2400, 2412, 2569, 2617, 2774, 2894, 2955, 3649, 3770, 3891, 4665, 5572, 5620, 6055, 6527, 6660, 7241, 7807, 7976, 8265, 8952, 9036, 9193, 9325, 9349, 9843];
const xs6111 = [350, 434, 784, 808, 1628, 1785, 1809, 2111, 2581, 2714, 2894, 3107, 3686, 4109, 4181, 5354, 5668, 5717, 5789, 5813, 6164, 6880, 7108, 8626, 9699, 9747];
const xs6110 = [1085, 1206, 1230, 1495, 2014, 7494, 9217, 9807];
const xs6109 = [904, 1459, 2424, 4121, 5040, 5112, 5463, 5801, 6696, 6783, 7169, 7289, 7470, 9120, 9205];
const xs6108 = [1941, 5850, 6600, 7205, 7554, 7952, 8060, 9651, 9855];
const xs6107 = [5934, 6442, 6964];
const xs6106 = [880, 1351, 6261, 6948, 9747];
const xs6105 = [6043];
const xs6104 = [1614, 3734, 4338, 7771, 9072];
const xs6103 = [5245];
const xs6101 = [3915, 7602];
const xs6095 = [6599];

const adcLevels = [6160, 6159, 6158, 6157, 6156, 6155, 6154, 6153, 6152, 6151, 6150, 6149, 6148, 6147, 6146, 6145, 6144, 6143, 6142, 6141, 6140, 6139, 6138, 6137, 6136, 6135, 6134, 6133, 6132, 6131, 6130, 6129, 6128, 6127, 6126, 6125, 6124, 6123, 6122, 6121, 6120, 6119, 6118, 6117, 6116, 6115, 6114, 6113, 6112, 6111, 6110, 6109, 6108, 6107, 6106, 6105, 6104, 6103, 6101, 6095];
const levelSamples = [xs6160, xs6159, xs6158, xs6157, xs6156, xs6155, xs6154, xs6153, xs6152, xs6151, xs6150, xs6149, xs6148, xs6147, xs6146, xs6145, xs6144, xs6143, xs6142, xs6141, xs6140, xs6139, xs6138, xs6137, xs6136, xs6135, xs6134, xs6133, xs6132, xs6131, xs6130, xs6129, xs6128, xs6127, xs6126, xs6125, xs6124, xs6123, xs6122, xs6121, xs6120, xs6119, xs6118, xs6117, xs6116, xs6115, xs6114, xs6113, xs6112, xs6111, xs6110, xs6109, xs6108, xs6107, xs6106, xs6105, xs6104, xs6103, xs6101, xs6095];

const xTicks = [0, 2000, 4000, 6000, 8000, 10000];
const yTicks = [6100, 6110, 6120, 6130, 6140, 6150, 6160];

const FONT = '"DejaVu Sans"';

const points = [];
adcLevels.forEach((level, i) => {
    levelSamples[i].forEach((sample) => points.push({ x: sample, y: level }));
});

// top/right spines and the matplotlib style legend box
const framePlugin = {
    id: "frame",
    afterDraw(chart) {
        const { ctx, chartArea: a } = chart;
        ctx.save();
        ctx.strokeStyle = "#000";
        ctx.lineWidth = 1;
        ctx.strokeRect(a.left, a.top, a.right - a.left, a.bottom - a.top);

        ctx.beginPath();
        ctx.roundRect(772.5, 42.5, 205, 44, 3);
        ctx.fillStyle = "rgba(255,255,255,0.8)";
        ctx.fill();
        ctx.strokeStyle = "#ccc";
        ctx.stroke();

        ctx.fillStyle = "#000";
        ctx.beginPath();
        ctx.arc(791, 65, 2.8, 0, Math.PI * 2);
        ctx.fill();
        ctx.fillStyle = "#ccc";
        ctx.beginPath();
        ctx.arc(791, 77, 2.8, 0, Math.PI * 2);
        ctx.fill();

        ctx.fillStyle = "#000";
        ctx.textBaseline = "alphabetic";
        ctx.textAlign = "left";
        ctx.font = "13.9px " + FONT;
        ctx.fillText("Samples", 816, 59);
        let x = 816;
        [["\u03bc", true], [" = 6131.15, ", false], ["\u03c3", true], [" = 8.02", false]].forEach(([txt, italic]) => {
            ctx.font = (italic ? "italic " : "") + "13.9px " + FONT;
            ctx.fillText(txt, x, 76);
            x += ctx.measureText(txt).width;
        });
        ctx.restore();
    },
};

new Chart(document.getElementById("chart"), {
    type: "scatter",
    data: {
        datasets: [
            {
                label: "Samples",
                data: points,
                backgroundColor: "#000",
                borderWidth: 0,
                pointRadius: 2.8,
            },
        ],
    },
    options: {
        responsive: false,
        animation: false,
        layout: { padding: { top: 0, right: 15, bottom: 0, left: 0 } },
        plugins: {
            legend: { display: false },
            tooltip: { enabled: false },
            title: {
                display: true,
                text: "Run 482, channel002, Pedestal",
                color: "#000",
                fullSize: false,
                font: { family: FONT, size: 16.67, weight: "normal" },
                padding: { top: 12, bottom: 3 },
            },
        },
        scales: {
            x: {
                type: "linear",
                min: -489,
                max: 10416,
                afterFit(scale) {
                    scale.height = 58.5;
                },
                afterBuildTicks(scale) {
                    scale.ticks = xTicks.map((v) => ({ value: v }));
                },
                grid: { color: "#b0b0b0", tickColor: "#000", tickLength: 5, lineWidth: 1 },
                border: { color: "#000" },
                ticks: {
                    color: "#000",
                    font: { family: FONT, size: 13.9 },
                    padding: 3,
                    maxRotation: 0,
                    autoSkip: false,
                    callback: (v) => String(v),
                },
                title: {
                    display: true,
                    text: "Sample #",
                    color: "#000",
                    font: { family: FONT, size: 13.9 },
                    padding: { top: 0, bottom: 14 },
                },
            },
            y: {
                min: 6091.65,
                max: 6167.5,
                afterFit(scale) {
                    scale.width = 81;
                },
                afterBuildTicks(scale) {
                    scale.ticks = yTicks.map((v) => ({ value: v }));
                },
                grid: { color: "#b0b0b0", tickColor: "#000", tickLength: 5, lineWidth: 1 },
                border: { color: "#000" },
                ticks: {
                    color: "#000",
                    font: { family: FONT, size: 13.9 },
                    padding: 6,
                    autoSkip: false,
                    callback: (v) => String(v),
                },
                title: {
                    display: true,
                    text: "ADC Counts",
                    color: "#000",
                    font: { family: FONT, size: 13.9 },
                    padding: { top: 13, bottom: 0 },
                },
            },
        },
    },
    plugins: [framePlugin],
});
</script>
</body>
</html>
